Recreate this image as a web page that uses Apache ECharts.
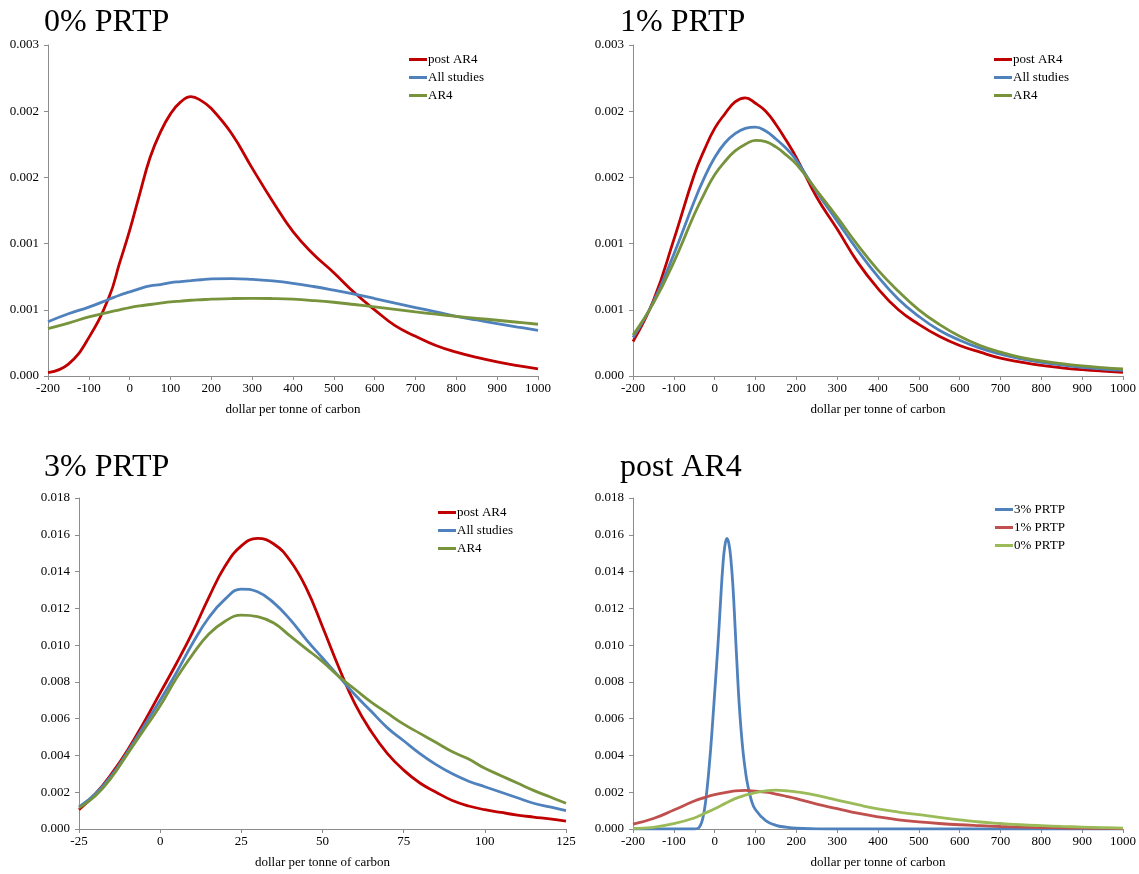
<!DOCTYPE html>
<html><head><meta charset="utf-8">
<script src="https://cdn.jsdelivr.net/npm/echarts@6/dist/echarts.min.js"></script>
<style>html,body{margin:0;padding:0;background:#fff}#c{width:1139px;height:874px}</style>
</head><body><div id="c"></div><script>
// ---- data ----
var panelTitles = ['0% PRTP', '1% PRTP', '3% PRTP', 'post AR4'];
var studyNames = ['post AR4', 'All studies', 'AR4'];
var prtpNames = ['3% PRTP', '1% PRTP', '0% PRTP'];
var xLabel = 'dollar per tonne of carbon';

// x grid for the -200..1000 panels
var xWide = [-200,-150,-100,-50,-25,0,25,50,75,100,125,150,175,200,250,300,350,400,450,500,550,600,650,700,750,800,850,900,950,1000];
// 0% PRTP
var p0Post = [0.000025,0.00009,0.00029,0.0006,0.00085,0.0011,0.00138,0.00165,0.00184,0.00198,0.00207,0.00211,0.00208,0.00202,0.00183,0.00157,0.00132,0.00109,0.00092,0.00078,0.00063,0.0005,0.00038,0.0003,0.00023,0.00018,0.00014,0.000106,0.000078,0.000053];
var p0All  = [0.00041,0.00047,0.00052,0.00058,0.00061,0.000635,0.00066,0.00068,0.00069,0.000705,0.000713,0.00072,0.000727,0.000733,0.000736,0.00073,0.000718,0.0007,0.000676,0.000648,0.000618,0.000585,0.00055,0.000517,0.000484,0.000451,0.000423,0.000396,0.00037,0.000345];
var p0AR4  = [0.000358,0.0004,0.000446,0.000483,0.0005,0.000517,0.00053,0.00054,0.00055,0.00056,0.000566,0.000572,0.000576,0.00058,0.000585,0.000587,0.000585,0.00058,0.00057,0.000557,0.00054,0.000522,0.000503,0.000484,0.000467,0.000451,0.000436,0.000421,0.000406,0.000391];
// 1% PRTP
var p1Post = [0.00026,0.00057,0.00103,0.00152,0.00171,0.00187,0.00198,0.00207,0.0021,0.00206,0.002,0.0019,0.00178,0.00165,0.00135,0.00111,0.00086,0.00066,0.0005,0.00039,0.0003,0.00023,0.00018,0.000135,0.000105,0.00008,0.000062,0.000048,0.000037,0.000028];
var p1All  = [0.00029,0.00056,0.00092,0.00132,0.0015,0.00165,0.00176,0.00183,0.00187,0.00188,0.00185,0.00179,0.00172,0.00163,0.00139,0.00117,0.00095,0.00075,0.00058,0.00045,0.000345,0.00027,0.00021,0.000165,0.00013,0.000103,0.000083,0.000066,0.000053,0.000043];
var p1AR4  = [0.00031,0.00055,0.00086,0.00122,0.00138,0.00152,0.00162,0.0017,0.00175,0.00178,0.00177,0.00173,0.00167,0.0016,0.0014,0.0012,0.00099,0.0008,0.00064,0.0005,0.00039,0.0003,0.00023,0.00018,0.00014,0.000115,0.000093,0.000076,0.000063,0.000053];
// 3% PRTP
var xNarrow = [-25,-20,-15,-10,-5,0,5,10,15,20,25,30,35,40,45,50,55,60,65,70,75,80,85,90,95,100,105,110,115,120,125];
var p3Post = [0.00105,0.0019,0.003,0.0043,0.0058,0.0074,0.009,0.0107,0.0126,0.0143,0.0154,0.0158,0.0155,0.0146,0.0131,0.011,0.0088,0.0068,0.0053,0.0041,0.0032,0.0025,0.002,0.00155,0.00125,0.00105,0.0009,0.00076,0.00065,0.00055,0.00043];
var p3All  = [0.0012,0.0019,0.0029,0.0042,0.0056,0.007,0.0085,0.0101,0.0115,0.0125,0.01305,0.0129,0.0123,0.0114,0.0103,0.0093,0.0083,0.0073,0.0064,0.0055,0.0048,0.0041,0.0035,0.003,0.0026,0.0023,0.002,0.0017,0.0014,0.0012,0.001];
var p3AR4  = [0.00115,0.0018,0.0028,0.0041,0.0054,0.0067,0.0082,0.0095,0.0106,0.0113,0.01163,0.01155,0.0112,0.0105,0.0098,0.0091,0.0083,0.0076,0.0069,0.0063,0.0057,0.0052,0.0047,0.0042,0.0038,0.0033,0.0029,0.0025,0.0021,0.00175,0.0014];
// post AR4 panel, 3% PRTP curve on the wide axis
var xPost3 = [-200,-100,-50,-40,-35,-30,-25,-20,-15,-10,-5,0,5,10,15,20,25,30,35,40,45,50,55,60,65,70,75,80,90,100,125,150,175,200,250,300,400,500,600,700,800,900,1000];
var yPost3 = [0,0,0,0.00005,0.0002,0.0005,0.00105,0.0019,0.003,0.0043,0.0058,0.0074,0.009,0.0107,0.0126,0.0143,0.0154,0.0158,0.0155,0.0146,0.0131,0.011,0.0088,0.0068,0.0053,0.0041,0.0032,0.0025,0.00155,0.00105,0.00045,0.0002,0.0001,0.00004,0.00001,0,0,0,0,0,0,0,0];

// ---- chart ----
function pairs(xs, ys) { return xs.map(function (x, i) { return [x, ys[i]]; }); }
var FONT = 'Liberation Serif';
var AX = '#8c8c8c';
var fmtY = function (v) { return (Math.round(v * 1000 + 1e-9) / 1000).toFixed(3); };
var fmtX = function (v) { return String(Math.round(v)); };

var grids = [
  {left: 48, top: 45, width: 490, height: 331},
  {left: 633, top: 45, width: 491, height: 331},
  {left: 79, top: 498, width: 487, height: 331},
  {left: 633, top: 498, width: 491, height: 331}
];
var xRanges = [[-200, 1000, 100], [-200, 1000, 100], [-25, 125, 25], [-200, 1000, 100]];
var yRanges = [[0, 0.0025, 0.0005], [0, 0.0025, 0.0005], [0, 0.018, 0.002], [0, 0.018, 0.002]];

var xAxes = xRanges.map(function (r, i) {
  return {
    type: 'value', gridIndex: i, min: r[0], max: r[1], interval: r[2],
    name: xLabel, nameLocation: 'middle', nameGap: 27,
    nameTextStyle: {fontFamily: FONT, fontSize: 13, color: '#000'},
    axisLine: {show: true, onZero: false, lineStyle: {color: AX, width: 1}},
    axisTick: {show: true, length: 4, lineStyle: {color: AX}},
    splitLine: {show: false},
    axisLabel: {fontFamily: FONT, fontSize: 13, color: '#000', margin: 6, formatter: fmtX}
  };
});
var yAxes = yRanges.map(function (r, i) {
  return {
    type: 'value', gridIndex: i, min: r[0], max: r[1], interval: r[2],
    axisLine: {show: true, onZero: false, lineStyle: {color: AX, width: 1}},
    axisTick: {show: true, length: 4, lineStyle: {color: AX}},
    splitLine: {show: false},
    axisLabel: {fontFamily: FONT, fontSize: 13, color: '#000', margin: 9, formatter: fmtY}
  };
});

function line(name, idx, xs, ys, color) {
  return {
    name: name, type: 'line', xAxisIndex: idx, yAxisIndex: idx,
    data: pairs(xs, ys), showSymbol: false, symbol: 'none',
    smooth: 0.45,
    lineStyle: {color: color, width: 2.8}, itemStyle: {color: color},
    emphasis: {disabled: true}, animation: false
  };
}
var RED = '#C00000', BLUE = '#4F81BD', OLIVE = '#77933C';
var series = [
  line('post AR4', 0, xWide, p0Post, RED),
  line('All studies', 0, xWide, p0All, BLUE),
  line('AR4', 0, xWide, p0AR4, OLIVE),
  line('post AR4', 1, xWide, p1Post, RED),
  line('All studies', 1, xWide, p1All, BLUE),
  line('AR4', 1, xWide, p1AR4, OLIVE),
  line('post AR4', 2, xNarrow, p3Post, RED),
  line('All studies', 2, xNarrow, p3All, BLUE),
  line('AR4', 2, xNarrow, p3AR4, OLIVE),
  line('3% PRTP', 3, xPost3, yPost3, '#4F81BD'),
  line('1% PRTP', 3, xWide, p1Post, '#C0504D'),
  line('0% PRTP', 3, xWide, p0Post, '#9BBB59')
];

function legend(names, left, top) {
  return {
    data: names, left: left, top: top, orient: 'vertical', itemGap: 5, padding: 0,
    icon: 'rect', itemWidth: 18, itemHeight: 3,
    textStyle: {fontFamily: FONT, fontSize: 13, color: '#000', padding: [0, 0, 0, -4]}
  };
}
var titlePos = [[44, 7], [620, 7], [44, 452], [620, 452]];
var option = {
  backgroundColor: '#fff',
  animation: false,
  title: panelTitles.map(function (t, i) {
    return {text: t, left: titlePos[i][0], top: titlePos[i][1], padding: 0,
      textStyle: {fontFamily: FONT, fontSize: 32, fontWeight: 'normal', color: '#000'}};
  }),
  legend: [
    legend(studyNames, 409, 53),
    legend(studyNames, 994, 53),
    legend(studyNames, 438, 506),
    legend(prtpNames, 995, 503)
  ],
  grid: grids,
  xAxis: xAxes,
  yAxis: yAxes,
  series: series
};
var chart = echarts.init(document.getElementById('c'), null, {renderer: 'canvas'});
chart.setOption(option);
</script></body></html>
